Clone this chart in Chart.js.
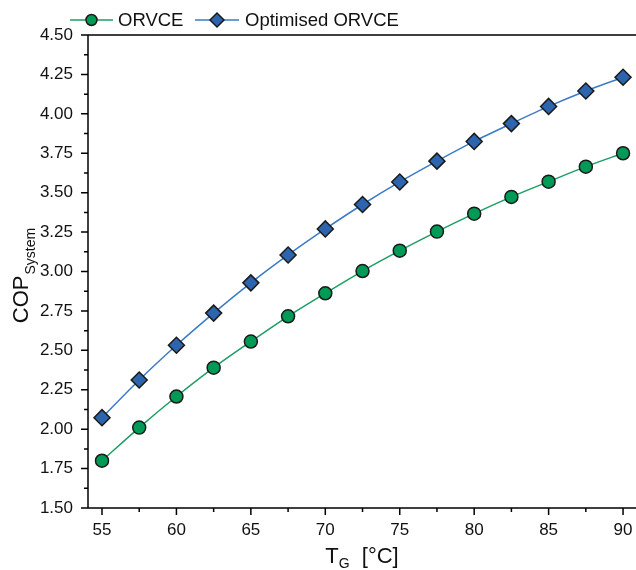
<!DOCTYPE html>
<html>
<head>
<meta charset="utf-8">
<script src="https://cdn.jsdelivr.net/npm/chart.js@4.4.0/dist/chart.umd.min.js"></script>
<style>
    html, body { margin: 0; padding: 0; background: #fff; overflow: hidden; }
    #grafico { display: block; }
</style>
</head>
<body>
<canvas id="grafico" width="636" height="570"></canvas>
<script>
// Datos
const temperaturas = [55, 57.5, 60, 62.5, 65, 67.5, 70, 72.5, 75, 77.5, 80, 82.5, 85, 87.5, 90];
const copOrvce = [1.80, 2.01, 2.207, 2.39, 2.556, 2.716, 2.862, 3.003, 3.132, 3.253, 3.367, 3.473, 3.57, 3.665, 3.75];
const copOptimizado = [2.073, 2.312, 2.532, 2.736, 2.928, 3.105, 3.27, 3.425, 3.568, 3.70, 3.825, 3.938, 4.047, 4.145, 4.232];
const nombresSeries = ['ORVCE', 'Optimised ORVCE'];

// Marcas de los ejes
const ticksX = [55, 57.5, 60, 62.5, 65, 67.5, 70, 72.5, 75, 77.5, 80, 82.5, 85, 87.5, 90];
const ticksY = [1.5, 1.75, 2.0, 2.25, 2.5, 2.75, 3.0, 3.25, 3.5, 3.75, 4.0, 4.25, 4.5];
const ticksYMenores = [1.625, 1.875, 2.125, 2.375, 2.625, 2.875, 3.125, 3.375, 3.625, 3.875, 4.125, 4.375];

const FUENTE = '"Liberation Sans", Arial, sans-serif';
const VERDE_LINEA = '#1c9e63';
const VERDE_PUNTO = '#009a57';
const AZUL_LINEA = '#3a7bc8';
const AZUL_PUNTO = '#2c64ae';
const BORDE = '#1a1a1a';

const series = [
    { linea: VERDE_LINEA, punto: VERDE_PUNTO, estilo: 'circle', radio: 6.5, radioLeyenda: 5.5 },
    { linea: AZUL_LINEA, punto: AZUL_PUNTO, estilo: 'rectRot', radio: 8, radioLeyenda: 7 }
];

function aPuntos(valores) {
    return temperaturas.map((t, i) => ({ x: t, y: valores[i] }));
}

// Ejes, marcas, leyenda y titulos dibujados a mano
const decoracion = {
    id: 'decoracion',
    afterDraw(chart) {
        const { ctx, chartArea: a, scales: { x, y } } = chart;
        ctx.save();

        ctx.strokeStyle = '#000';
        ctx.lineWidth = 1.5;
        ctx.beginPath();
        ctx.moveTo(a.left, a.top);
        ctx.lineTo(a.right, a.top);
        ctx.moveTo(a.left, a.top);
        ctx.lineTo(a.left, a.bottom);
        ctx.lineTo(a.right, a.bottom);

        ticksX.forEach(v => {
            const px = x.getPixelForValue(v);
            const largo = v % 5 === 0 ? 7 : 4;
            ctx.moveTo(px, a.bottom);
            ctx.lineTo(px, a.bottom + largo);
        });
        ticksY.forEach(v => {
            const py = y.getPixelForValue(v);
            ctx.moveTo(a.left, py);
            ctx.lineTo(a.left - 7, py);
        });
        ticksYMenores.forEach(v => {
            const py = y.getPixelForValue(v);
            ctx.moveTo(a.left, py);
            ctx.lineTo(a.left - 4, py);
        });
        ctx.stroke();

        // Leyenda
        const posiciones = [{ x0: 70, x1: 113, texto: 118 }, { x0: 195, x1: 239, texto: 245 }];
        const yLeyenda = 20;
        ctx.font = '18.5px ' + FUENTE;
        ctx.textBaseline = 'middle';
        ctx.textAlign = 'left';
        series.forEach((s, i) => {
            const p = posiciones[i];
            ctx.strokeStyle = s.linea;
            ctx.lineWidth = 1.5;
            ctx.beginPath();
            ctx.moveTo(p.x0, yLeyenda);
            ctx.lineTo(p.x1, yLeyenda);
            ctx.stroke();
            ctx.fillStyle = s.punto;
            ctx.strokeStyle = BORDE;
            ctx.lineWidth = 1.5;
            Chart.helpers.drawPoint(ctx, { pointStyle: s.estilo, radius: s.radioLeyenda, rotation: 0, borderWidth: 1.5 }, (p.x0 + p.x1) / 2, yLeyenda);
            ctx.fillStyle = '#111';
            ctx.fillText(nombresSeries[i], p.texto, yLeyenda + 1);
        });

        // Titulo del eje X: T_G [°C]
        ctx.fillStyle = '#111';
        ctx.textBaseline = 'alphabetic';
        const fGrande = '22px ' + FUENTE;
        const fSub = '14px ' + FUENTE;
        ctx.font = fGrande;
        const wT = ctx.measureText('T').width;
        const wResto = ctx.measureText('  [°C]').width;
        ctx.font = fSub;
        const wG = ctx.measureText('G').width;
        let xt = (a.left + a.right) / 2 - (wT + wG + wResto) / 2;
        ctx.font = fGrande;
        ctx.fillText('T', xt, 563);
        ctx.font = fSub;
        ctx.fillText('G', xt + wT, 568);
        ctx.font = fGrande;
        ctx.fillText('  [°C]', xt + wT + wG, 563);

        // Titulo del eje Y: COP_System
        ctx.translate(28, 276);
        ctx.rotate(-Math.PI / 2);
        ctx.font = fGrande;
        const wCop = ctx.measureText('COP').width;
        ctx.font = fSub;
        const wSys = ctx.measureText('System').width;
        const inicio = -(wCop + wSys) / 2;
        ctx.font = fGrande;
        ctx.fillText('COP', inicio, 0);
        ctx.font = fSub;
        ctx.fillText('System', inicio + wCop + 1, 7);

        ctx.restore();
    }
};

const datasets = [copOrvce, copOptimizado].map((valores, i) => ({
    label: nombresSeries[i],
    data: aPuntos(valores),
    borderColor: series[i].linea,
    borderWidth: 1.5,
    tension: 0.3,
    pointStyle: series[i].estilo,
    pointRadius: series[i].radio,
    pointBackgroundColor: series[i].punto,
    pointBorderColor: BORDE,
    pointBorderWidth: 1.5,
    clip: false
}));

new Chart(document.getElementById('grafico'), {
    type: 'line',
    data: { datasets: datasets },
    options: {
        responsive: false,
        animation: false,
        devicePixelRatio: 1,
        layout: { autoPadding: false, padding: { top: 35, left: 0, right: 0, bottom: 0 } },
        plugins: {
            legend: { display: false },
            tooltip: { enabled: false }
        },
        scales: {
            x: {
                type: 'linear',
                min: 54.06,
                max: 90.87,
                afterBuildTicks: scale => { scale.ticks = ticksX.map(v => ({ value: v })); },
                afterFit: scale => {
                    scale.height = 62;
                    scale.paddingLeft = 0;
                    scale.paddingRight = 0;
                },
                grid: { display: false, drawTicks: false },
                border: { display: false },
                ticks: {
                    autoSkip: false,
                    maxRotation: 0,
                    padding: 12,
                    color: '#111',
                    font: { family: FUENTE, size: 17 },
                    callback: v => (v % 5 === 0 ? String(v) : '')
                }
            },
            y: {
                min: 1.5,
                max: 4.5,
                afterBuildTicks: scale => { scale.ticks = ticksY.map(v => ({ value: v })); },
                afterFit: scale => {
                    scale.width = 88;
                    scale.paddingTop = 0;
                    scale.paddingBottom = 0;
                },
                grid: { display: false, drawTicks: false },
                border: { display: false },
                ticks: {
                    autoSkip: false,
                    padding: 15,
                    color: '#111',
                    font: { family: FUENTE, size: 17 },
                    callback: v => Number(v).toFixed(2)
                }
            }
        }
    },
    plugins: [decoracion]
});
</script>
</body>
</html>
